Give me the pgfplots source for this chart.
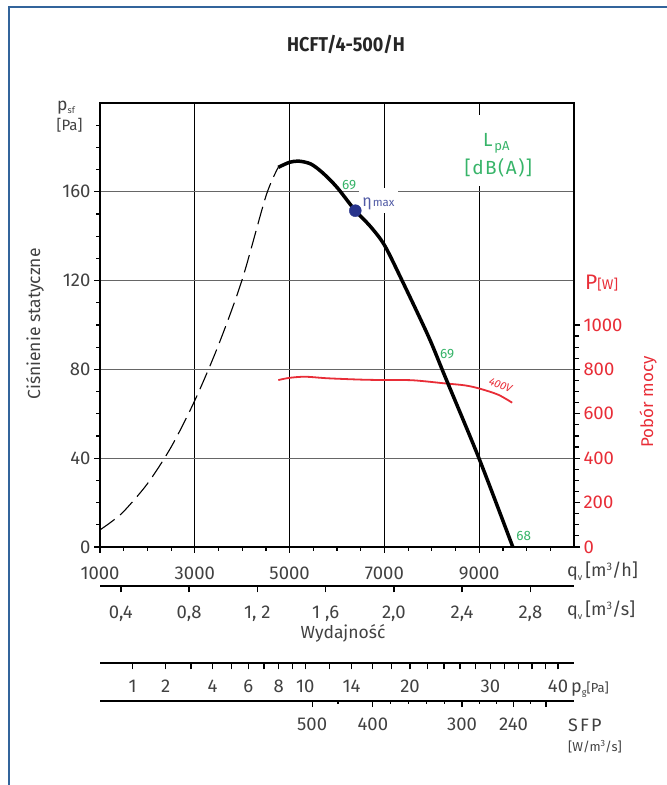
\documentclass[border=0pt]{standalone}
\usepackage{graphicx}
\usepackage{fontspec}
\setmainfont{Fira Sans}
\usepackage{pgfplots}
\pgfplotsset{compat=1.18}

\definecolor{frameblue}{RGB}{50,100,155}
\definecolor{txt}{RGB}{65,65,65}
\definecolor{pred}{RGB}{232,45,55}
\definecolor{lgreen}{RGB}{55,180,105}
\definecolor{navy}{RGB}{40,52,140}
\definecolor{etablue}{RGB}{80,90,165}

\newcommand\fs[1]{\fontsize{#1}{#1}\selectfont}

\pgfplotsset{
  scalebar/.style={
    anchor=south west, scale only axis, width=474pt, height=10pt,
    xmin=1000, xmax=11000, ymin=0, ymax=1,
    axis y line=none, axis x line*=bottom,
    axis line style={-, black, line width=1.9pt},
    scaled x ticks=false,
    tick align=outside,
    every tick/.style={black, line width=1.3pt},
    ticklabel style={font=\fs{18.5}, text=txt},
  },
}

\begin{document}
\begin{tikzpicture}
\useasboundingbox (0pt,0pt) rectangle (667pt,785pt);
\draw[frameblue, line width=1.5pt] (9pt,0pt) -- (9pt,778pt) -- (667pt,778pt);
\node[text=black!85, font=\fs{20}\bfseries] at (346pt,741pt) {\scalebox{0.9}[1]{HCFT/4-500/H}};

% main chart: static pressure vs flow
\begin{axis}[
  at={(100pt,238pt)}, anchor=south west, scale only axis,
  width=474pt, height=444pt,
  xmin=1000, xmax=11000, ymin=0, ymax=200,
  clip=false, scaled x ticks=false, scaled y ticks=false,
  xtick={1000,3000,5000,7000,9000},
  xticklabels={1000,3000,5000,7000,9000},
  minor xtick={1500,2000,...,10500},
  ytick={0,40,80,120,160},
  yticklabels={0,40,80,120,160},
  minor ytick={10,20,...,190},
  xtick pos=left, ytick pos=left, tick align=outside,
  major tick length=6pt, minor tick length=4pt,
  every tick/.style={black, line width=1.2pt},
  axis line style={black, line width=1.8pt},
  xmajorgrids, ymajorgrids,
  major x grid style={black, line width=0.9pt},
  major y grid style={black!60, line width=1.1pt},
  ticklabel style={font=\fs{18.5}, text=txt},
  xticklabel style={yshift=-10pt},
]
% unstable region (dashed)
\addplot[black, line width=1.1pt, dash pattern=on 18pt off 7pt, smooth] coordinates {
  (1000,7.7) (1250,11.5) (1500,16) (2000,28.5) (2500,45) (3000,66) (3500,91)
  (4000,120.5) (4500,158) (4760,171)
};
% power curve, W (right scale is 10x the left one)
\addplot[pred, line width=1.8pt, smooth, y filter/.expression={y/10}] coordinates {
  (4762,752) (5000,762) (5336,767) (5800,760) (6500,754) (7000,752)
  (7600,751) (8275,737) (8700,728) (9000,714) (9400,686) (9695,650)
};
% fan curve
\addplot[black, line width=3.5pt, smooth] coordinates {
  (4760,171) (5000,173.3) (5200,173.8) (5450,172.5) (5700,168.5)
  (6000,162) (6386,151.5) (6700,144.5) (7000,136) (7364,120.4) (7926,95)
  (8275,77) (9000,39.7) (9709,0)
};
\addplot[only marks, mark=*, mark size=6pt, navy] coordinates {(6386,151.5)};

% label boxes
\fill[white] (axis cs:6456,150.5) rectangle (axis cs:7290,161.5);
\node[anchor=base west, inner sep=0pt, text=etablue] at (axis cs:6530,153.5)
  {{\fs{16}η}\hspace{1pt}{\fs{11.5}max}};
\fill[white] (axis cs:8700,162.5) rectangle (axis cs:10100,194.5);
\node[inner sep=0pt, text=lgreen, font=\fs{19}] at (axis cs:9184,183.4) {L};
\node[inner sep=0pt, text=lgreen, font=\fs{13}] at (axis cs:9480,180.2) {pA};
\node[inner sep=0pt, text=lgreen, font=\fs{19}\addfontfeatures{LetterSpace=8}] at (axis cs:9405,170.9) {[dB(A)]};

\node[inner sep=0pt, text=lgreen, font=\fs{13.5}] at (axis cs:6257,163.0) {69};
\node[inner sep=0pt, text=lgreen, font=\fs{13.5}] at (axis cs:8324,87.0) {69};
\node[inner sep=0pt, text=lgreen, font=\fs{13.5}] at (axis cs:9940,5.0) {68};
\node[inner sep=0pt, text=pred, font=\fs{11}\itshape, rotate=-21] at (axis cs:9450,73) {400V};
\end{axis}

% right scale: power
\begin{axis}[
  at={(100pt,238pt)}, anchor=south west, scale only axis,
  width=474pt, height=444pt,
  xmin=1000, xmax=11000, ymin=0, ymax=2000,
  scaled y ticks=false,
  axis x line=none, axis y line*=right,
  ytick={0,200,...,1000},
  yticklabels={0,200,400,600,800,1000},
  minor ytick={50,100,...,950},
  tick align=outside,
  major tick length=6pt, minor tick length=4.5pt,
  every tick/.style={black, line width=1.2pt},
  axis line style={-, black, line width=1.8pt},
  ticklabel style={font=\fs{18.5}, text=pred},
]
\end{axis}

% m3/s scale
\begin{axis}[scalebar, at={(100pt,199pt)},
  xtick={1440,2880,4320,5760,7200,8640,10080},
  xticklabels={{0,4},{0,8},{1, 2},{1 ,6},{2,0},{2,4},{2,8}},
  major tick length=6.5pt,
  xticklabel style={yshift=-10pt},
]
\end{axis}

% dynamic pressure scale
\begin{axis}[scalebar, at={(100pt,121.7pt)},
  xtick={1686,2384,3372,4130,4769,5332,6308,7540,9235,10663},
  xticklabels={1,2,4,6,8,10,14,20,30,40},
  minor xtick={2920,3770,4461,5058,5841,6744,7153,7908,8260,8597,8922,9538,9831,10116,10393},
  major tick length=6pt, minor tick length=6pt,
  xticklabel style={yshift=-7pt},
]
\end{axis}

% SFP scale
\begin{axis}[scalebar, at={(100pt,84.3pt)},
  xtick={5476,6756,8639,9724,10408},
  xticklabels={500,400,300,240,{}},
  minor xtick={6022,7122,7506,7890,8261,9010,9359,10081},
  major tick length=6.5pt, minor tick length=3pt,
  xticklabel style={yshift=-7pt},
]
\end{axis}

% axis titles
\node[anchor=base west, inner sep=0pt, text=txt, font=\fs{17.5}] at (57pt,674pt) {p\raisebox{-3pt}{\fs{9}sf}};
\node[anchor=base west, inner sep=0pt, text=txt, font=\fs{15}] at (56.5pt,654pt) {[Pa]};
\node[rotate=90, inner sep=0pt, text=txt, font=\fs{17.5}] at (35pt,461pt) {Ciśnienie statyczne};
\node[rotate=90, inner sep=0pt, text=pred, font=\fs{17}] at (648pt,383pt) {Pobór mocy};
\node[anchor=base west, inner sep=0pt, text=pred] at (585pt,495pt) {{\fs{21}P}{\fs{14}[W]}};
\node[anchor=base west, inner sep=0pt, text=txt, font=\fs{18}] at (567pt,208pt)
  {q\raisebox{-4pt}{\fs{9}v}\,[m\raisebox{6pt}{\fs{11}3}/h]};
\node[anchor=base west, inner sep=0pt, text=txt, font=\fs{18}] at (567pt,169pt)
  {q\raisebox{-4pt}{\fs{9}v}\,[m\raisebox{6pt}{\fs{11}3}/s]};
\node[anchor=base, inner sep=0pt, text=txt, font=\fs{17.5}] at (343pt,146pt) {Wydajność};
\node[anchor=base west, inner sep=0pt, text=txt] at (571pt,92pt) {{\fs{18}p}\raisebox{-3pt}{\fs{9}g}{\fs{13}[Pa]}};
\node[anchor=base west, inner sep=0pt, text=txt, font=\fs{18}\addfontfeatures{LetterSpace=12}] at (568pt,53.3pt) {SFP};
\node[anchor=base west, inner sep=0pt, text=txt, font=\fs{13}] at (568pt,34pt) {[W/m\raisebox{5pt}{\fs{9}3}/s]};
\end{tikzpicture}
\end{document}
